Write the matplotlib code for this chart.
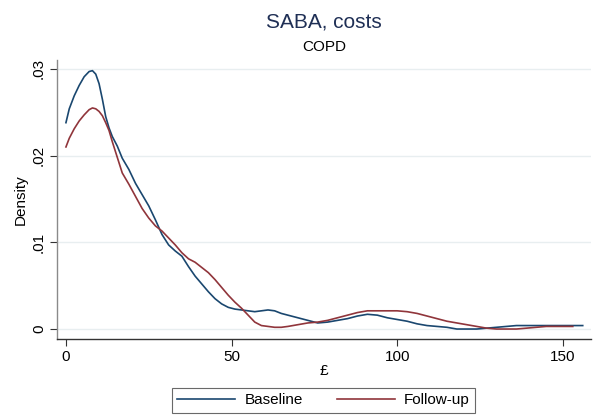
import matplotlib
matplotlib.use("Agg")
import matplotlib.pyplot as plt
from matplotlib.lines import Line2D

plt.rcParams['font.family'] = ['Liberation Sans', 'DejaVu Sans']

# Kernel density estimates of SABA costs (£), COPD patients
cost_grid = [0, 1, 2.5, 4, 5.5, 7, 8, 9, 10, 11, 12, 13, 14, 15.5, 17, 19, 21, 23, 25,
             27, 29, 31, 33, 35, 37, 39, 41, 43, 45, 47, 49, 51, 53, 55, 57, 59, 61, 63,
             65, 67, 70, 73, 76, 79, 82, 85, 88, 91, 94, 97, 100, 103, 106, 109, 112,
             115, 118, 121, 124, 127, 130, 133, 136, 139, 142, 145, 148, 151, 154, 156]

baseline_density = [0.0238, 0.0254, 0.0269, 0.0281, 0.0291, 0.0297, 0.0298, 0.0294,
                    0.0283, 0.0265, 0.0245, 0.0232, 0.0222, 0.0211, 0.0197, 0.0184,
                    0.0168, 0.0155, 0.0142, 0.0126, 0.0109, 0.0097, 0.0090, 0.0084,
                    0.0072, 0.0061, 0.0052, 0.0043, 0.0035, 0.0029, 0.0025, 0.0023,
                    0.0022, 0.0021, 0.0020, 0.0021, 0.0022, 0.0021, 0.0018, 0.0016,
                    0.0013, 0.0010, 0.0007, 0.0008, 0.0010, 0.0012, 0.0015, 0.0017,
                    0.0016, 0.0013, 0.0011, 0.0009, 0.0006, 0.0004, 0.0003, 0.0002,
                    0.0000, 0.0000, 0.0000, 0.0001, 0.0002, 0.0003, 0.0004, 0.0004,
                    0.0004, 0.0004, 0.0004, 0.0004, 0.0004, 0.0004]

followup_grid = cost_grid[:-2] + [153]
followup_density = [0.0210, 0.0220, 0.0231, 0.0240, 0.0247, 0.0253, 0.0255, 0.0254,
                    0.0251, 0.0246, 0.0238, 0.0229, 0.0216, 0.0198, 0.0180, 0.0167,
                    0.0153, 0.0139, 0.0128, 0.0119, 0.0113, 0.0105, 0.0097, 0.0088,
                    0.0081, 0.0077, 0.0071, 0.0065, 0.0057, 0.0048, 0.0039, 0.0031,
                    0.0024, 0.0016, 0.0008, 0.0004, 0.0003, 0.0002, 0.0002, 0.0003,
                    0.0005, 0.0007, 0.0008, 0.0010, 0.0013, 0.0016, 0.0019, 0.0021,
                    0.0021, 0.0021, 0.0021, 0.0020, 0.0018, 0.0015, 0.0012, 0.0009,
                    0.0007, 0.0005, 0.0003, 0.0001, 0.0000, 0.0000, 0.0000, 0.0001,
                    0.0002, 0.0003, 0.0003, 0.0003, 0.0003]

x_ticks = [0, 50, 100, 150]
y_ticks = [0, 0.01, 0.02, 0.03]
y_tick_labels = ['0', '.01', '.02', '.03']
series_names = ['Baseline', 'Follow-up']

navy = '#1a476f'
maroon = '#90353b'

W, H = 609, 417
fig = plt.figure(figsize=(W / 100, H / 100), dpi=100)
left, right, top, bottom = 57, 591, 60, 339
ax = fig.add_axes([left / W, 1 - bottom / H, (right - left) / W, (bottom - top) / H])

ax.plot(cost_grid, baseline_density, color=navy, lw=1.2, label=series_names[0])
ax.plot(followup_grid, followup_density, color=maroon, lw=1.2, label=series_names[1])

ax.set_xlim(-2.7, 158.5)
ax.set_ylim(-0.00115, 0.03103)

ax.set_xticks(x_ticks)
ax.set_xticklabels([str(t) for t in x_ticks], fontsize=11)
ax.set_yticks(y_ticks)
ax.set_yticklabels(y_tick_labels, fontsize=11, rotation=90, va='center')
ax.tick_params(axis='both', length=5, width=0.8, color='#333333', pad=3)

ax.grid(axis='y', color='#e8eef0', lw=1.0)
ax.set_axisbelow(True)
for s in ('top', 'right'):
    ax.spines[s].set_visible(False)
ax.spines['left'].set_color('#8a8a8a')
ax.spines['bottom'].set_color('#333333')
ax.spines['left'].set_linewidth(1.0)
ax.spines['bottom'].set_linewidth(1.0)

ax.set_xlabel('£', fontsize=11, labelpad=0)
ax.set_ylabel('Density', fontsize=11, labelpad=3)

fig.text((left + right) / 2 / W, 1 - 22 / H, 'SABA, costs', ha='center', va='center',
         fontsize=15, color='#1f2f55')
fig.text((left + right) / 2 / W, 1 - 47 / H, 'COPD', ha='center', va='center',
         fontsize=11, color='black')

handles = [Line2D([], [], color=navy, lw=1.2), Line2D([], [], color=maroon, lw=1.2)]
leg = fig.legend(handles, series_names, loc='upper center',
                 bbox_to_anchor=((175 + 472) / 2 / W, 1 - 388 / H), ncol=2,
                 frameon=True, fancybox=False, fontsize=11, handlelength=3.8,
                 handletextpad=0.6, columnspacing=2.2, borderpad=0.35,
                 borderaxespad=0)
leg.get_frame().set_edgecolor('#444444')
leg.get_frame().set_linewidth(0.8)

fig.savefig('out.png', dpi=100)
